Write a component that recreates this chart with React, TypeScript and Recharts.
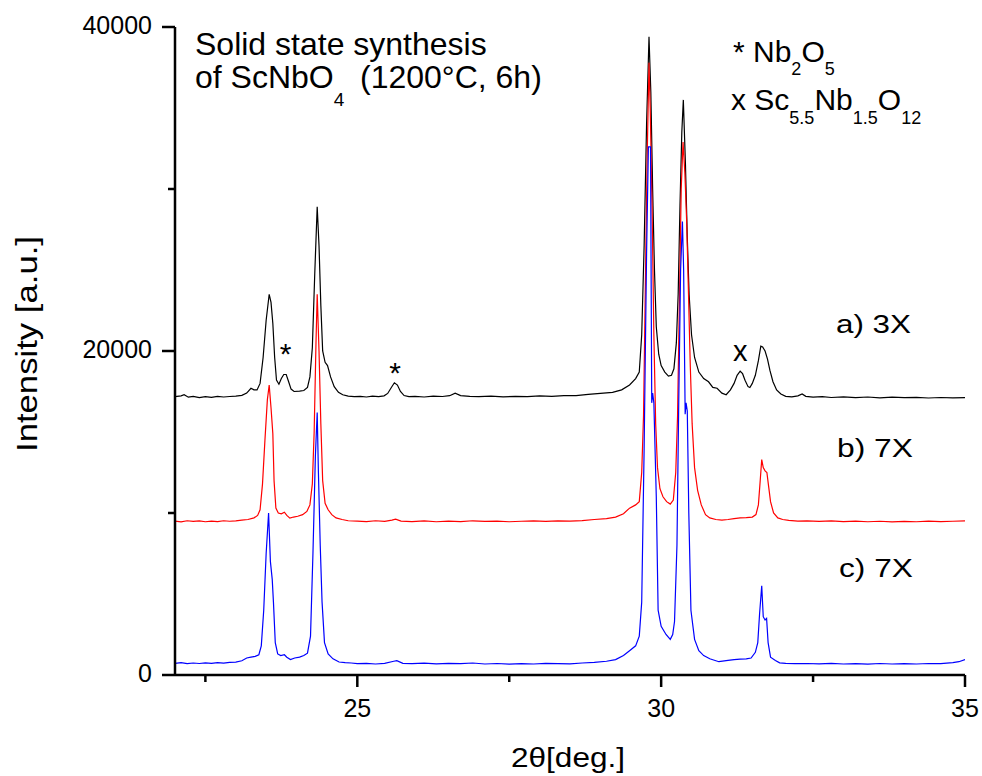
import React from "react";
import { LineChart, Line, XAxis, YAxis, ReferenceDot } from "recharts";

const FONT = '"Liberation Sans", Arial, Helvetica, sans-serif';

const xTicks = [22.5, 25, 27.5, 30, 32.5, 35];
const xLabeled = [25, 30, 35];
const yTicks = [0, 10000, 20000, 30000, 40000];
const yLabeled = [0, 20000, 40000];

// [2theta, intensity]
const pattern3X: [number, number][] = [
  [22.0, 17180], [22.1, 17230], [22.15, 17300], [22.22, 17150], [22.3, 17200],
  [22.4, 17120], [22.5, 17180], [22.6, 17140], [22.7, 17200], [22.8, 17160],
  [22.9, 17190], [23.0, 17220], [23.1, 17260], [23.18, 17400], [23.25, 17700],
  [23.3, 17600], [23.35, 17600], [23.4, 18000], [23.45, 19600], [23.5, 21900],
  [23.55, 23500], [23.58, 23000], [23.61, 21700], [23.64, 19600], [23.67, 18200],
  [23.71, 17950], [23.75, 18300], [23.79, 18550], [23.83, 18550], [23.87, 18100],
  [23.91, 17650], [23.96, 17500], [24.05, 17520], [24.12, 17560], [24.18, 17750],
  [24.22, 18400], [24.26, 20200], [24.3, 24800], [24.34, 28900], [24.37, 26500],
  [24.4, 22800], [24.43, 20000], [24.47, 19300], [24.51, 19100], [24.56, 18400],
  [24.62, 17800], [24.69, 17450], [24.76, 17300], [24.85, 17220], [24.95, 17180],
  [25.05, 17200], [25.15, 17160], [25.25, 17210], [25.35, 17180], [25.44, 17230],
  [25.5, 17380], [25.56, 17750], [25.61, 18040], [25.66, 17900], [25.71, 17500],
  [25.77, 17250], [25.85, 17180], [25.95, 17200], [26.1, 17160], [26.25, 17220],
  [26.4, 17190], [26.52, 17240], [26.61, 17400], [26.7, 17250], [26.85, 17200],
  [27.0, 17180], [27.2, 17220], [27.4, 17170], [27.6, 17200], [27.8, 17180],
  [28.0, 17230], [28.2, 17200], [28.4, 17240], [28.6, 17250], [28.8, 17320],
  [29.0, 17380], [29.2, 17450], [29.35, 17600], [29.48, 17900], [29.58, 18300],
  [29.64, 18700], [29.68, 21000], [29.72, 26500], [29.76, 34000], [29.8, 39400],
  [29.83, 36000], [29.86, 30000], [29.89, 25000], [29.92, 21500], [29.96, 19800],
  [30.0, 19100], [30.06, 18700], [30.12, 18450], [30.17, 18500], [30.21, 18900],
  [30.25, 20500], [30.28, 23500], [30.31, 29000], [30.34, 33500], [30.365, 35500],
  [30.4, 31500], [30.43, 27000], [30.46, 23500], [30.5, 21000], [30.55, 19600],
  [30.62, 18700], [30.7, 18300], [30.78, 18100], [30.85, 17750], [30.92, 17700],
  [31.0, 17400], [31.07, 17300], [31.14, 17600], [31.2, 18000], [31.25, 18500],
  [31.3, 18750], [31.34, 18600], [31.38, 18200], [31.43, 17800], [31.46, 17750],
  [31.5, 18000], [31.55, 18500], [31.6, 19400], [31.64, 20300], [31.67, 20250],
  [31.71, 20000], [31.75, 19500], [31.79, 18800], [31.84, 18100], [31.9, 17600],
  [31.97, 17350], [32.05, 17200], [32.15, 17170], [32.25, 17230], [32.32, 17350],
  [32.38, 17200], [32.5, 17150], [32.65, 17180], [32.8, 17130], [33.0, 17170],
  [33.2, 17120], [33.4, 17160], [33.6, 17110], [33.8, 17150], [34.0, 17120],
  [34.2, 17140], [34.4, 17100], [34.6, 17130], [34.8, 17110], [35.0, 17120],
];

const pattern7Xb: [number, number][] = [
  [22.0, 9500], [22.1, 9450], [22.2, 9520], [22.3, 9480], [22.4, 9510],
  [22.5, 9460], [22.6, 9500], [22.7, 9470], [22.8, 9520], [22.9, 9490],
  [23.0, 9510], [23.1, 9560], [23.2, 9600], [23.3, 9700], [23.36, 9850],
  [23.4, 10200], [23.44, 11800], [23.48, 14500], [23.52, 17000], [23.55, 17900],
  [23.58, 16500], [23.61, 14900], [23.63, 12000], [23.66, 10300], [23.7, 10000],
  [23.75, 9950], [23.8, 10050], [23.84, 9850], [23.89, 9680], [23.95, 9750],
  [24.02, 9800], [24.1, 9900], [24.17, 10100], [24.22, 10500], [24.26, 11800],
  [24.29, 15000], [24.32, 20500], [24.34, 23500], [24.37, 20000], [24.4, 15500],
  [24.43, 12000], [24.47, 10600], [24.52, 10200], [24.58, 9900], [24.65, 9700],
  [24.75, 9600], [24.85, 9520], [25.0, 9500], [25.15, 9470], [25.3, 9520],
  [25.45, 9480], [25.57, 9560], [25.63, 9620], [25.72, 9500], [25.9, 9470],
  [26.1, 9510], [26.3, 9460], [26.5, 9500], [26.7, 9470], [26.9, 9520],
  [27.1, 9480], [27.3, 9500], [27.5, 9460], [27.7, 9490], [27.9, 9510],
  [28.1, 9480], [28.3, 9520], [28.5, 9500], [28.7, 9530], [28.9, 9600],
  [29.1, 9650], [29.25, 9750], [29.38, 9950], [29.48, 10300], [29.58, 10500],
  [29.64, 10700], [29.68, 12500], [29.71, 16000], [29.74, 24000], [29.77, 32000],
  [29.8, 37800], [29.82, 35000], [29.85, 29000], [29.88, 21000], [29.91, 15500],
  [29.94, 12800], [29.98, 11500], [30.03, 11000], [30.09, 10700], [30.15, 10550],
  [30.2, 10800], [30.24, 12500], [30.27, 16000], [30.3, 23000], [30.33, 30000],
  [30.36, 32900], [30.39, 31000], [30.42, 28000], [30.45, 23500], [30.48, 19000],
  [30.51, 15500], [30.55, 12800], [30.6, 11400], [30.66, 10500], [30.73, 9900],
  [30.8, 9700], [30.9, 9600], [31.0, 9560], [31.1, 9600], [31.2, 9650],
  [31.3, 9700], [31.4, 9720], [31.5, 9750], [31.56, 9900], [31.6, 10500],
  [31.63, 12000], [31.655, 13300], [31.68, 12800], [31.71, 12600], [31.74, 12500],
  [31.77, 11600], [31.8, 10700], [31.85, 10000], [31.92, 9700], [32.0, 9600],
  [32.1, 9540], [32.25, 9500], [32.4, 9520], [32.6, 9480], [32.8, 9510],
  [33.0, 9470], [33.2, 9500], [33.4, 9460], [33.6, 9490], [33.8, 9450],
  [34.0, 9480], [34.2, 9460], [34.4, 9500], [34.6, 9470], [34.8, 9490],
  [35.0, 9520],
];

const pattern7Xc: [number, number][] = [
  [22.0, 720], [22.1, 760], [22.2, 700], [22.3, 740], [22.4, 710],
  [22.5, 750], [22.6, 720], [22.7, 760], [22.8, 730], [22.9, 780],
  [23.0, 800], [23.1, 880], [23.18, 1050], [23.25, 1100], [23.32, 1150],
  [23.38, 1250], [23.42, 1800], [23.46, 4000], [23.5, 7500], [23.54, 10000],
  [23.57, 7000], [23.6, 5900], [23.62, 4500], [23.65, 2000], [23.69, 1300],
  [23.74, 1200], [23.8, 1250], [23.84, 1100], [23.9, 950], [23.97, 1050],
  [24.05, 1100], [24.12, 1200], [24.18, 1350], [24.23, 2400], [24.27, 7500],
  [24.31, 13500], [24.34, 16200], [24.36, 12500], [24.39, 8000], [24.42, 4500],
  [24.46, 2000], [24.52, 1300], [24.6, 1000], [24.7, 800], [24.8, 760],
  [24.9, 740], [25.0, 700], [25.15, 720], [25.3, 680], [25.45, 720],
  [25.6, 850], [25.65, 880], [25.75, 720], [25.9, 700], [26.1, 730],
  [26.3, 690], [26.5, 720], [26.7, 700], [26.9, 740], [27.1, 680],
  [27.3, 710], [27.5, 670], [27.7, 700], [27.9, 680], [28.1, 720],
  [28.3, 700], [28.5, 690], [28.7, 740], [28.9, 780], [29.1, 850],
  [29.25, 950], [29.38, 1200], [29.48, 1500], [29.58, 1800], [29.64, 2400],
  [29.68, 4500], [29.72, 14000], [29.76, 26000], [29.79, 32600], [29.825, 32600],
  [29.845, 16800], [29.86, 17400], [29.88, 16800], [29.92, 11000], [29.95, 4000],
  [30.0, 3000], [30.08, 2500], [30.15, 2200], [30.19, 2500], [30.22, 3300],
  [30.26, 8000], [30.29, 17000], [30.32, 25000], [30.35, 28000], [30.37, 25000],
  [30.395, 16100], [30.41, 16800], [30.43, 16300], [30.455, 10000], [30.49, 4000],
  [30.55, 2200], [30.62, 1500], [30.7, 1200], [30.8, 1000], [30.95, 820],
  [31.1, 900], [31.2, 950], [31.3, 980], [31.4, 1000], [31.48, 1050],
  [31.55, 1400], [31.59, 2000], [31.62, 3800], [31.655, 5500], [31.68, 3600],
  [31.71, 3400], [31.735, 3500], [31.76, 2000], [31.8, 1100], [31.88, 900],
  [31.95, 750], [32.05, 720], [32.2, 700], [32.4, 710], [32.6, 690],
  [32.8, 720], [33.0, 680], [33.2, 700], [33.4, 670], [33.6, 710],
  [33.8, 680], [34.0, 700], [34.2, 680], [34.4, 710], [34.6, 700],
  [34.8, 760], [34.9, 820], [35.0, 950],
];

const sampleLabels = ["a) 3X", "b) 7X", "c) 7X"];
const markerTheta = [23.82, 25.62, 31.3];
const markerIntensity = [20200, 19000, 19900];
const markerSymbols = ["*", "*", "x"];

const toPoints = (p: [number, number][]) => p.map(([x, y]) => ({ x, y }));

function XTick(props: any) {
  const { x, y, payload } = props;
  const major = xLabeled.includes(payload.value);
  return (
    <g>
      <line x1={x} x2={x} y1={y} y2={y + (major ? 12 : 7)} stroke="#000" strokeWidth={2.5} />
      {major && (
        <text x={x} y={y + 42} textAnchor="middle" fontSize={25} fontFamily={FONT} fill="#000">
          {payload.value}
        </text>
      )}
    </g>
  );
}

function YTick(props: any) {
  const { x, y, payload } = props;
  const major = yLabeled.includes(payload.value);
  return (
    <g>
      <line x1={x} x2={x - (major ? 13 : 7)} y1={y} y2={y} stroke="#000" strokeWidth={2.5} />
      {major && (
        <text x={x - 23} y={y + 7} textAnchor="end" fontSize={25} fontFamily={FONT} fill="#000">
          {payload.value}
        </text>
      )}
    </g>
  );
}

export default function App() {
  return (
    <div style={{ position: "absolute", left: 0, top: 0, width: 982, height: 776, background: "#fff" }}>
      <LineChart width={982} height={776} margin={{ top: 27, right: 17, bottom: 0, left: 0 }}>
        <XAxis
          type="number"
          dataKey="x"
          domain={[22, 35]}
          ticks={xTicks}
          interval={0}
          allowDataOverflow
          height={101}
          tickSize={0}
          tickMargin={0}
          tickLine={false}
          tick={<XTick />}
          axisLine={{ stroke: "#000", strokeWidth: 2.5 }}
          label={(p: any) => (
            <text
              x={p.viewBox.x + p.viewBox.width / 2 - 2}
              y={p.viewBox.y + 92}
              textAnchor="middle"
              fontSize={27}
              textLength={114}
              lengthAdjust="spacingAndGlyphs"
              fontFamily={FONT}
              fill="#000"
            >
              2θ[deg.]
            </text>
          )}
        />
        <YAxis
          type="number"
          domain={[0, 40000]}
          ticks={yTicks}
          interval={0}
          width={175}
          tickSize={0}
          tickMargin={0}
          tickLine={false}
          tick={<YTick />}
          axisLine={{ stroke: "#000", strokeWidth: 2.5 }}
          label={(p: any) => {
            const cx = p.viewBox.x + 37;
            const cy = p.viewBox.y + p.viewBox.height / 2 - 7;
            return (
              <text
                x={cx}
                y={cy}
                transform={`rotate(-90 ${cx} ${cy})`}
                textAnchor="middle"
                fontSize={30}
                textLength={216}
                lengthAdjust="spacingAndGlyphs"
                fontFamily={FONT}
                fill="#000"
              >
                Intensity [a.u.]
              </text>
            );
          }}
        />
        <Line data={toPoints(pattern3X)} dataKey="y" type="linear" stroke="#000000" strokeWidth={1.2} dot={false} isAnimationActive={false} />
        <Line data={toPoints(pattern7Xb)} dataKey="y" type="linear" stroke="#ff0000" strokeWidth={1.2} dot={false} isAnimationActive={false} />
        <Line data={toPoints(pattern7Xc)} dataKey="y" type="linear" stroke="#0000ff" strokeWidth={1.2} dot={false} isAnimationActive={false} />
        {markerTheta.map((t, i) => (
          <ReferenceDot
            key={i}
            x={t}
            y={markerIntensity[i]}
            r={1}
            fill="none"
            stroke="none"
            label={(p: any) => (
              <text
                x={p.viewBox.x + p.viewBox.width / 2}
                y={p.viewBox.y + p.viewBox.height / 2 + (markerSymbols[i] === "*" ? 16 : 8)}
                textAnchor="middle"
                fontSize={markerSymbols[i] === "*" ? 30 : 29}
                fontFamily={FONT}
                fill="#000"
              >
                {markerSymbols[i]}
              </text>
            )}
          />
        ))}
      </LineChart>
      <svg
        width={982}
        height={776}
        style={{ position: "absolute", left: 0, top: 0, pointerEvents: "none" }}
        fontFamily={FONT}
        fill="#000"
      >
        <text x={195} y={55} fontSize={32}>Solid state synthesis</text>
        <text x={195} y={88} fontSize={32}>
          of ScNbO<tspan fontSize={19} dy={18}>4</tspan>
          <tspan x={360} dy={-18}>(1200°C, 6h)</tspan>
        </text>
        <text x={733} y={62} fontSize={30}>
          {"* Nb"}<tspan fontSize={18} dy={13}>2</tspan><tspan dy={-13}>O</tspan><tspan fontSize={18} dy={13}>5</tspan>
        </text>
        <text x={731} y={110} fontSize={30}>
          {"x Sc"}<tspan fontSize={18} dy={14}>5.5</tspan><tspan dy={-14}>Nb</tspan><tspan fontSize={18} dy={14}>1.5</tspan>
          <tspan dy={-14}>O</tspan><tspan fontSize={18} dy={14}>12</tspan>
        </text>
        <text x={836} y={333} fontSize={25} textLength={75} lengthAdjust="spacingAndGlyphs">{sampleLabels[0]}</text>
        <text x={837} y={457} fontSize={25} textLength={76} lengthAdjust="spacingAndGlyphs">{sampleLabels[1]}</text>
        <text x={839} y={577} fontSize={25} textLength={74} lengthAdjust="spacingAndGlyphs">{sampleLabels[2]}</text>
      </svg>
    </div>
  );
}
